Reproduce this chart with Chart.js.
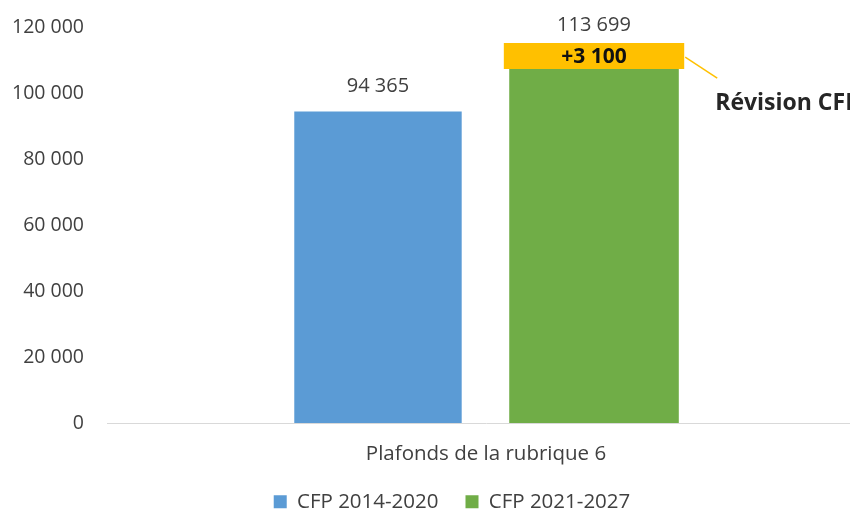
<!DOCTYPE html>
<html>
<head>
<meta charset="utf-8">
<script src="https://cdn.jsdelivr.net/npm/chart.js@4"></script>
<style>
html,body{margin:0;padding:0;background:#fff;overflow:hidden;width:850px;height:510px;}
canvas{display:block;}
</style>
</head>
<body>
<canvas id="c" width="908" height="510"></canvas>
<script>
// ---- data ----
const categories = ['Plafonds de la rubrique 6'];
const seriesNames = ['CFP 2014-2020', 'CFP 2021-2027'];
const cfp2014 = [94365];
const cfp2021 = [113699];
const revisionBox = [[107270, 115150]];   // highlighted box as drawn
const revisionText = ['+3 100'];
const revisionName = 'Révision CFP';
const yTicks = [0, 20000, 40000, 60000, 80000, 100000, 120000];

const FONT = '"Open Sans", "Noto Sans", sans-serif';
const fmt = v => String(v).replace(/\B(?=(\d{3})+(?!\d))/g, ' ');

const labelPlugin = {
  id: 'labels',
  afterLayout(chart) {
    const l = chart.legend;
    if (l) { l.left += 19.5; l.right += 19.5; }
  },
  afterDatasetsDraw(chart) {
    const ctx = chart.ctx;
    ctx.save();
    ctx.textAlign = 'center';
    ctx.textBaseline = 'middle';
    const mBlue = chart.getDatasetMeta(0);
    mBlue.data.forEach((el, i) => {
      ctx.font = '20px ' + FONT;
      ctx.fillStyle = '#404040';
      ctx.fillText(fmt(cfp2014[i]), el.x, el.y - 25);
    });
    const mBox = chart.getDatasetMeta(1);
    mBox.data.forEach((el, i) => {
      const top = el.y, bottom = el.base;
      const right = el.x + el.width / 2;
      ctx.font = '20px ' + FONT;
      ctx.fillStyle = '#404040';
      ctx.fillText(fmt(cfp2021[i]), el.x, top - 18);
      ctx.font = 'bold 21px ' + FONT;
      ctx.fillStyle = '#111';
      ctx.fillText(revisionText[i], el.x, (top + bottom) / 2 + 1);
      ctx.strokeStyle = '#FFC000';
      ctx.lineWidth = 1.5;
      ctx.beginPath();
      ctx.moveTo(right + 1, top + 14);
      ctx.lineTo(right + 33, top + 35);
      ctx.stroke();
      ctx.font = 'bold 23px ' + FONT;
      ctx.fillStyle = '#262626';
      ctx.textAlign = 'left';
      ctx.fillText(revisionName, right + 31, top + 60);
      ctx.textAlign = 'center';
    });
    ctx.restore();
  }
};

new Chart(document.getElementById('c'), {
  type: 'bar',
  data: {
    labels: categories,
    datasets: [
      { label: seriesNames[0], data: cfp2014, backgroundColor: '#5B9BD5', stack: 'a',
        barPercentage: 0.775, categoryPercentage: 0.57 },
      { label: 'rev', data: revisionBox, backgroundColor: '#FFC000', stack: 'b',
        barPercentage: 0.835, categoryPercentage: 0.57 },
      { label: seriesNames[1], data: cfp2021, backgroundColor: '#70AD47', stack: 'b',
        barPercentage: 0.785, categoryPercentage: 0.57 }
    ]
  },
  options: {
    responsive: false,
    animation: false,
    layout: { padding: { top: 27, right: 43, left: 0, bottom: -12 } },
    plugins: {
      tooltip: { enabled: false },
      legend: {
        position: 'bottom',
        labels: {
          filter: item => item.text !== 'rev',
          font: { family: FONT, size: 20.5 },
          color: '#404040',
          boxWidth: 13, boxHeight: 13,
          padding: 27
        }
      }
    },
    scales: {
      x: {
        grid: { display: false, drawTicks: false },
        border: { display: true, color: '#D9D9D9', width: 1 },
        ticks: { font: { family: FONT, size: 20.5 }, color: '#404040', padding: 19 },
        afterFit: s => { s.height = 41.5; }
      },
      y: {
        stacked: false,
        min: 0, max: 120000,
        afterBuildTicks: s => { s.ticks = yTicks.map(v => ({ value: v })); },
        grid: { display: false, drawTicks: true, tickLength: 23 },
        border: { display: false },
        ticks: { font: { family: FONT, size: 19.5 }, color: '#404040', padding: 0,
                 callback: v => fmt(v) },
        afterFit: s => { s.width = 107; }
      }
    }
  },
  plugins: [labelPlugin]
});
</script>
</body>
</html>
